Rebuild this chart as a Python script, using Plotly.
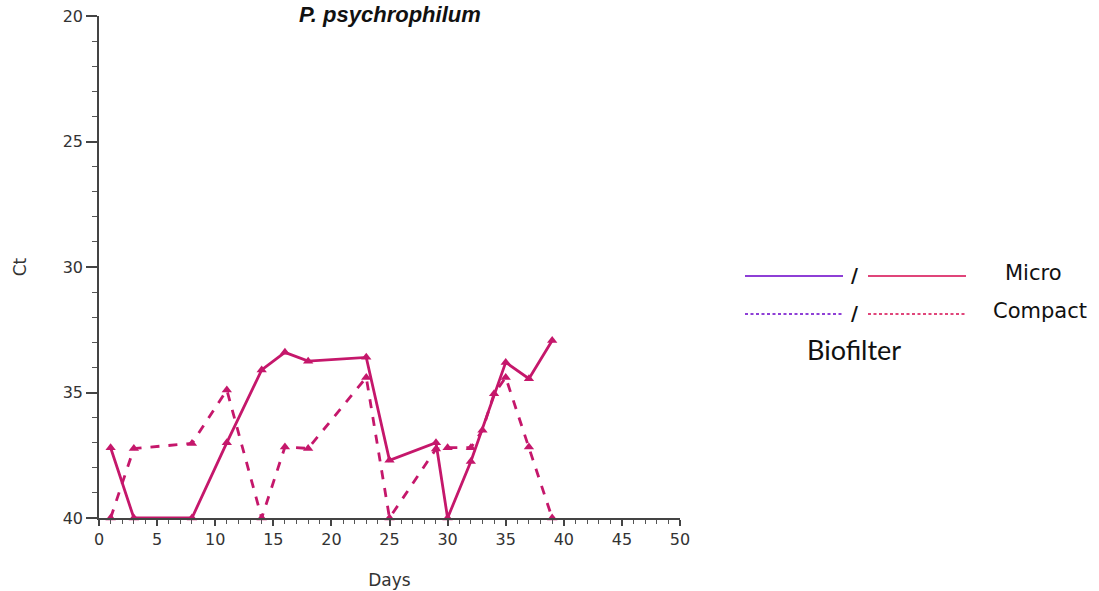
import plotly.graph_objects as go

# ---- data ----
days_micro = [1, 3, 8, 11, 14, 16, 18, 23, 25, 29, 30, 32, 35, 37, 39]
ct_micro = [37.2, 40, 40, 37.0, 34.1, 33.4, 33.75, 33.6, 37.7, 37.0, 40, 37.75, 33.8, 34.45, 32.93]

days_compact = [1, 3, 8, 11, 14, 16, 18, 23, 25, 29, 30, 32, 33, 34, 35, 37, 39]
ct_compact = [40, 37.23, 37.03, 34.9, 40, 37.17, 37.23, 34.4, 40, 37.25, 37.2, 37.2, 36.5, 35.05, 34.4, 37.17, 40]

x_ticks = [0, 5, 10, 15, 20, 25, 30, 35, 40, 45, 50]
y_ticks = [20, 25, 30, 35, 40]

title_text = "<b><i>P. psychrophilum</i></b>"
legend_rows = ["Micro", "Compact"]
legend_note = "Biofilter"

W, H = 1099, 591
L, R, T, B = 99, 680, 16, 518  # plot area in screen pixels
PINK = "#C5176B"
LEG_PURPLE = "#8E3FD6"
LEG_PINK = "#E0457A"
DV = "DejaVu Sans, Verdana, sans-serif"


def px(x):
    return (x - L) / (R - L)


def py(y):
    return (B - y) / (B - T)


fig = go.Figure()
fig.add_trace(go.Scatter(
    x=days_micro, y=ct_micro, mode="lines+markers",
    line=dict(color=PINK, width=2.8),
    marker=dict(symbol="triangle-up", size=9, color=PINK),
    showlegend=False, cliponaxis=False))
fig.add_trace(go.Scatter(
    x=days_compact, y=ct_compact, mode="lines+markers",
    line=dict(color=PINK, width=2.8, dash="dash"),
    marker=dict(symbol="triangle-up", size=9, color=PINK),
    showlegend=False, cliponaxis=False))

tick_font = dict(family=DV, size=16, color="#333333")
title_font = dict(family=DV, size=17, color="#333333")

fig.update_layout(
    width=W, height=H,
    margin=dict(l=L, r=W - R, t=T, b=H - B, autoexpand=False),
    paper_bgcolor="white", plot_bgcolor="white",
    xaxis=dict(
        range=[0, 50], tickvals=x_ticks, ticktext=[str(v) for v in x_ticks],
        showgrid=False, zeroline=False, showline=True, linecolor="#444444", linewidth=1.5,
        ticks="outside", ticklen=6, tickwidth=1.5, tickcolor="#444444",
        minor=dict(dtick=1, ticks="outside", ticklen=4, tickwidth=1.2, tickcolor="#555555"),
        tickfont=tick_font, automargin=False, ticklabeloverflow="allow",
        title=dict(text="Days", font=title_font, standoff=26),
    ),
    yaxis=dict(
        range=[40, 20], tickvals=y_ticks, ticktext=[str(v) for v in y_ticks],
        showgrid=False, zeroline=False, showline=True, linecolor="#444444", linewidth=1.5,
        ticks="outside", ticklen=11, tickwidth=1.5, tickcolor="#444444",
        minor=dict(dtick=1, ticks="outside", ticklen=5, tickwidth=1.2, tickcolor="#555555"),
        tickfont=tick_font, automargin=False, ticklabeloverflow="allow",
        title=dict(text="Ct", font=title_font, standoff=32),
    ),
)

# title at the very top
fig.add_annotation(text=title_text, xref="paper", yref="paper",
                   x=px(390), y=py(0), xanchor="center", yanchor="top",
                   showarrow=False,
                   font=dict(family="Liberation Sans, Arial, sans-serif", size=22, color="#111111"))

# custom legend
rows_y = [276, 314]
for i, (label, yy) in enumerate(zip(legend_rows, rows_y)):
    dash = "solid" if i == 0 else "3px,2.5px"
    fig.add_shape(type="line", xref="paper", yref="paper",
                  x0=px(745), x1=px(843), y0=py(yy), y1=py(yy),
                  line=dict(color=LEG_PURPLE, width=1.8, dash=dash))
    fig.add_shape(type="line", xref="paper", yref="paper",
                  x0=px(868), x1=px(966), y0=py(yy), y1=py(yy),
                  line=dict(color=LEG_PINK, width=1.8, dash=dash))
    fig.add_annotation(text="<b>/</b>", xref="paper", yref="paper", x=px(854), y=py(yy - 1),
                       showarrow=False, xanchor="center", yanchor="middle",
                       font=dict(family=DV, size=19, color="#111111"))
    lx = 1033 if i == 0 else 1040
    fig.add_annotation(text=label, xref="paper", yref="paper", x=px(lx), y=py(yy - 3),
                       showarrow=False, xanchor="center", yanchor="middle",
                       font=dict(family=DV, size=21, color="#111111"))

fig.add_annotation(text=legend_note, xref="paper", yref="paper", x=px(854), y=py(349),
                   showarrow=False, xanchor="center", yanchor="middle",
                   font=dict(family="Lato, Open Sans, sans-serif", size=27, color="#111111"))

fig.write_html("out.html", config={"displayModeBar": False},
               post_script="document.body.style.margin='0';")
